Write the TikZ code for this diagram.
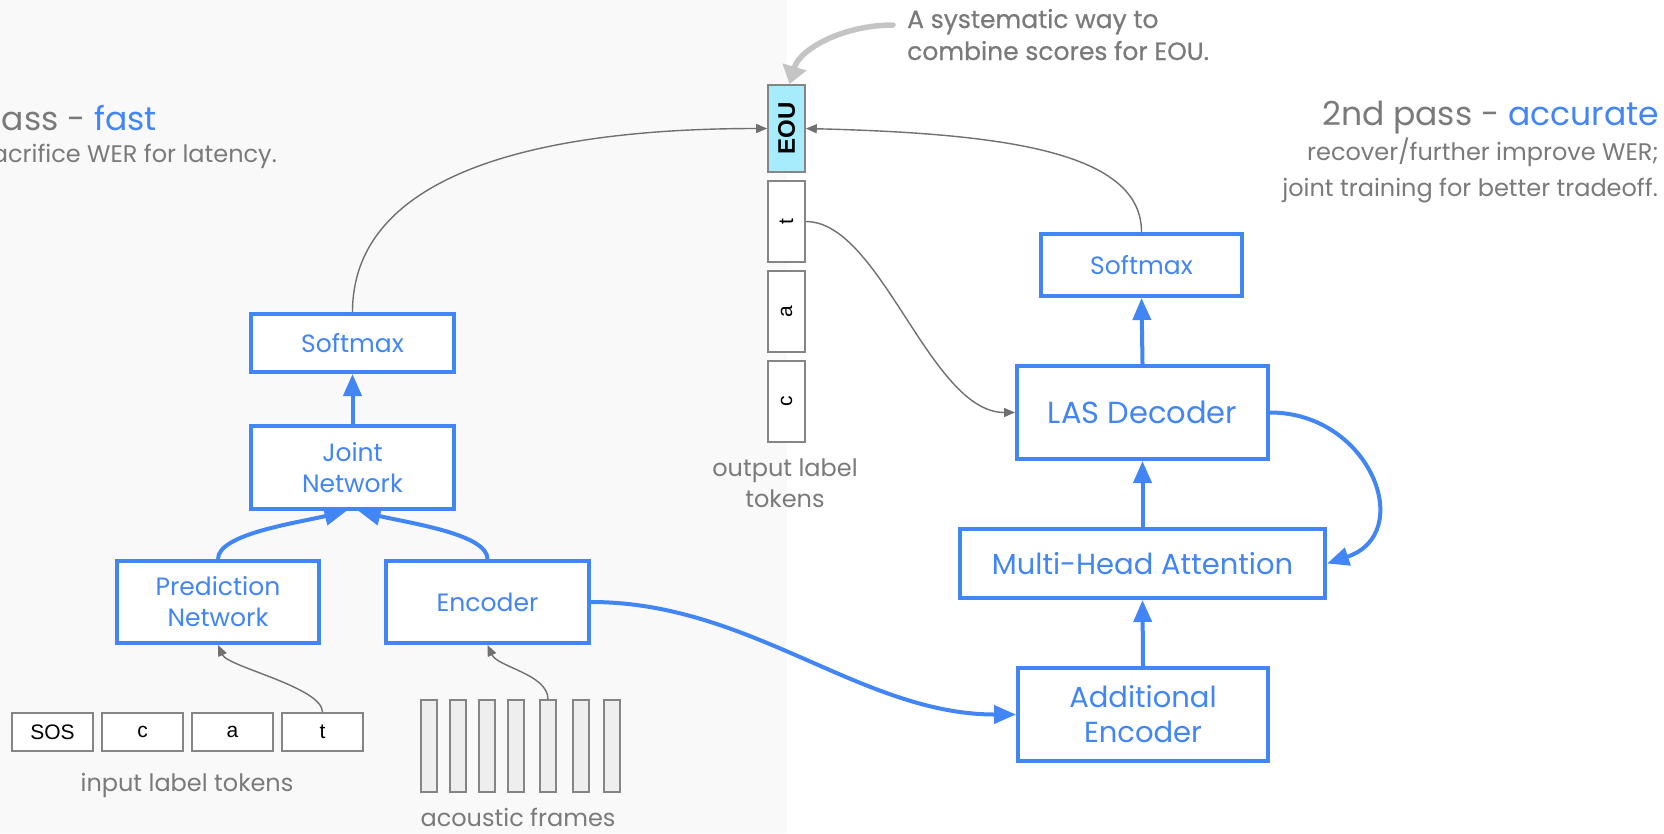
\documentclass[tikz,border=0pt]{standalone}
\usepackage{fontspec}
\usepackage{graphicx}
\setmainfont{Poppins}
\newfontfamily\tokfont{Liberation Sans}
\usetikzlibrary{arrows.meta}

\definecolor{gblue}{HTML}{4285F4}
\definecolor{ggray}{HTML}{7A7A7A}
\definecolor{panel}{HTML}{F9F9F9}
\definecolor{edgegray}{HTML}{858585}
\definecolor{linkgray}{HTML}{707070}
\definecolor{eoucyan}{HTML}{A6ECFC}
\definecolor{framefill}{HTML}{EEEEEE}
\definecolor{hintgray}{HTML}{C4C4C4}

\newcommand\fs[2]{\fontsize{#1}{#2}\selectfont}

\tikzset{
  box/.style={draw=gblue, line width=4pt, fill=white, text=gblue, align=center,
    inner sep=0pt, font=\fs{25}{31}},
  tok/.style={draw=edgegray, line width=1.6pt, fill=white, inner sep=0pt,
    font=\tokfont\fs{21}{24}},
  frm/.style={draw=edgegray, line width=1.6pt, fill=framefill, inner sep=0pt,
    minimum width=16pt, minimum height=92pt},
  flow/.style={draw=gblue, line width=4pt, -{Triangle[length=22pt,width=18pt]}},
  link/.style={draw=linkgray, line width=1.4pt, -{Triangle[length=11pt,width=9pt]}},
  hint/.style={draw=hintgray, line width=5.5pt, line cap=round,
    -{Triangle[length=18pt,width=24pt]}},
  note/.style={text=ggray, inner sep=0pt},
}

\begin{document}
\begin{tikzpicture}[x=1pt,y=-1pt]
  \clip (0,0) rectangle (1664,833);
  % backgrounds: shaded first-pass panel on the left
  \fill[white] (0,0) rectangle (1664,833);
  \fill[panel] (0,0) rectangle (787,833);

  % headings
  \node[note, anchor=base east, font=\fs{33}{40}] (pass1) at (157,130)
    {1st pass - \textcolor{gblue}{fast}};
  \node[note, anchor=base east, font=\fs{24}{28}] (pass1sub) at (277,162)
    {sacrifice WER for latency.};
  \node[note, anchor=base east, font=\fs{33}{40}] (pass2) at (1659,125)
    {2nd pass - \textcolor{gblue}{accurate}};
  \node[note, anchor=base east, font=\fs{24}{28}] (pass2a) at (1659,160)
    {recover/further improve WER;};
  \node[note, anchor=base east, font=\fs{24}{28}] (pass2b) at (1658,196)
    {joint training for better tradeoff.};
  \node[note, anchor=base west, font=\fs{25}{30}\addfontfeature{FakeBold=0.6}] (eounote1) at (907,28)
    {A systematic way to};
  \node[note, anchor=base west, font=\fs{25}{30}\addfontfeature{FakeBold=0.6}] (eounote2) at (907,60)
    {combine scores for EOU.};

  % first pass (RNN-T)
  \node[box, minimum width=203pt, minimum height=58pt] (sm1) at (352.5,343) {Softmax};
  \node[box, minimum width=203pt, minimum height=83pt] (jn) at (352.5,467.5) {Joint\\Network};
  \node[box, minimum width=202pt, minimum height=82pt] (pn) at (218,602) {Prediction\\Network};
  \node[box, minimum width=203pt, minimum height=82pt] (enc) at (487.5,602) {Encoder};

  % input label tokens
  \node[tok, minimum width=81pt, minimum height=38pt] (tsos) at (52.5,732) {SOS};
  \node[tok, minimum width=81pt, minimum height=38pt] (tc) at (142.5,732) {c};
  \node[tok, minimum width=81pt, minimum height=38pt] (ta) at (232.5,732) {a};
  \node[tok, minimum width=81pt, minimum height=38pt] (tt) at (322.5,732) {t};
  \node[note, font=\fs{24}{28}] (inlbl) at (187,785) {input label tokens};

  % acoustic frames
  \node[frm] (f1) at (429,746) {};
  \node[frm] (f2) at (458,746) {};
  \node[frm] (f3) at (487,746) {};
  \node[frm] (f4) at (516,746) {};
  \node[frm] (f5) at (548,746) {};
  \node[frm] (f6) at (581,746) {};
  \node[frm] (f7) at (612,746) {};
  \node[note, font=\fs{24}{28}] (aclbl) at (518,817) {acoustic frames};

  % output label tokens (stacked, text rotated)
  \node[tok, fill=eoucyan, minimum width=37pt, minimum height=87pt] (eou) at (786.5,128.5)
    {\rotatebox{90}{\fs{24}{28}\bfseries EOU}};
  \node[tok, minimum width=37pt, minimum height=81pt] (ot) at (786.5,221.5) {\rotatebox{90}{t}};
  \node[tok, minimum width=37pt, minimum height=81pt] (oa) at (786.5,311.5) {\rotatebox{90}{a}};
  \node[tok, minimum width=37pt, minimum height=81pt] (oc) at (786.5,401.5) {\rotatebox{90}{c}};
  \node[note, align=center, font=\fs{24}{31}] (outlbl) at (785,483) {output label\\tokens};

  % second pass (LAS)
  \node[box, minimum width=201pt, minimum height=62pt] (sm2) at (1141.5,265) {Softmax};
  \node[box, minimum width=251pt, minimum height=93pt, font=\fs{30.5}{36}] (las) at (1142.5,412.5) {LAS Decoder};
  \node[box, minimum width=365pt, minimum height=69pt, font=\fs{29}{34}] (mha) at (1142.5,563.5) {Multi-Head Attention};
  \node[box, minimum width=250pt, minimum height=93pt, font=\fs{29}{35}] (aenc) at (1143,714.5) {Additional\\Encoder};

  % first-pass flow
  \draw[flow] (jn.north) -- (sm1.south);
  \draw[flow] (pn.north) .. controls +(0,-25) and +(-50,12) .. ([xshift=-6pt]jn.south);
  \draw[flow] (enc.north) .. controls +(0,-25) and +(50,12) .. ([xshift=6pt]jn.south);
  \draw[link] (tt.north) .. controls +(0,-25) and +(10,22) .. (pn.south);
  \draw[link] (f5.north) .. controls +(0,-25) and +(10,22) .. (enc.south);

  % second-pass flow
  \draw[flow] (enc.east) .. controls +(160,0) and +(-155,0) .. (aenc.west);
  \draw[flow] (aenc.north) -- (mha.south);
  \draw[flow] (mha.north) -- (las.south);
  \draw[flow] (las.north) -- (sm2.south);
  \draw[flow] (las.east) .. controls +(100,0) and +(90,-30) .. (mha.east);
  \draw[link] (ot.east) .. controls +(75,0) and +(-85,0) .. (las.west);

  % both passes score the end-of-utterance token
  \draw[link] (sm1.north) .. controls +(0,-130) and +(-250,0) .. (eou.west);
  \draw[link] (sm2.north) .. controls +(0,-80) and +(200,5) .. (eou.east);

  % callout arrow
  \coordinate (hintstart) at (893,25);
  \draw[hint] (hintstart) .. controls (845,25) and (800,48) .. ([xshift=3pt]eou.north);
\end{tikzpicture}
\end{document}
